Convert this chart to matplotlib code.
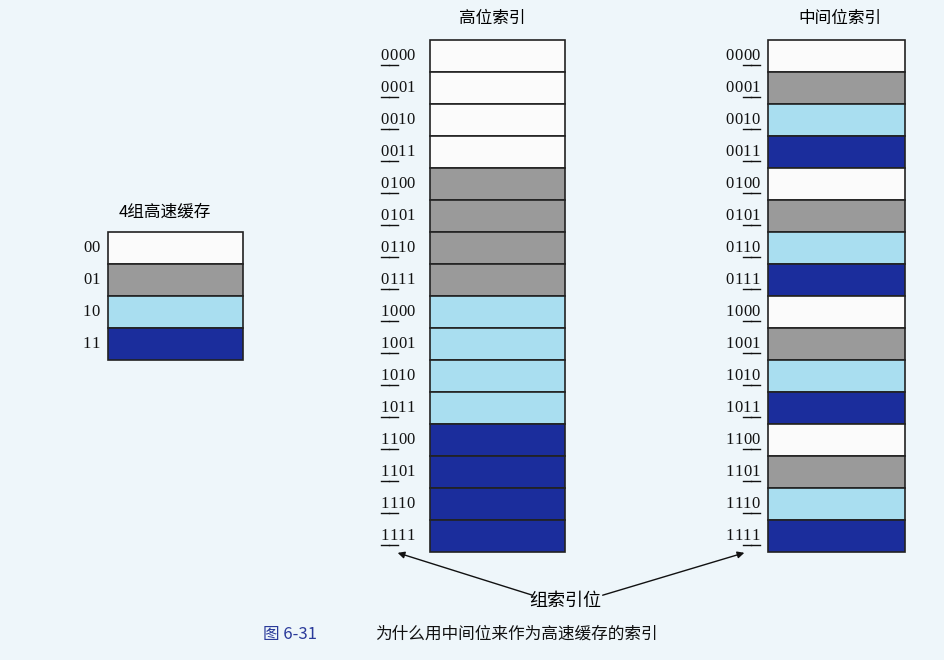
import matplotlib
matplotlib.use("Agg")
import matplotlib.pyplot as plt
from matplotlib.patches import Rectangle

plt.rcParams['font.family'] = ['Noto Sans CJK SC', 'DejaVu Sans']

cache_sets = ["00", "01", "10", "11"]
addresses = [format(i, "04b") for i in range(16)]
palette = {"00": "#fbfbfb", "01": "#9a9a9a", "10": "#a9def0", "11": "#1b2d9c"}
title_left = "4组高速缓存"
title_mid = "高位索引"
title_right = "中间位索引"
arrow_label = "组索引位"
caption_num = "图 6-31"
caption_text = "为什么用中间位来作为高速缓存的索引"

W, H = 945, 660
fig = plt.figure(figsize=(W / 100, H / 100), dpi=100)
fig.patch.set_facecolor("#eef6fa")
ax = fig.add_axes([0, 0, 1, 1])
ax.set_xlim(0, W); ax.set_ylim(H, 0); ax.axis("off")

CW = 8.6
def label(x_right, yc, s, ul):
    n = len(s)
    x0 = x_right - n * CW
    for i, ch in enumerate(s):
        ax.text(x0 + i * CW + CW / 2, yc, ch, ha="center", va="center",
                fontsize=12, family="Liberation Serif", color="#111")
    for i in ul:
        ax.plot([x0 + i * CW, x0 + (i + 1) * CW], [yc + 9, yc + 9], color="#111", lw=1)

def column(x, y0, w, h, keys, labels, ul, xr):
    for k, (key, lab) in enumerate(zip(keys, labels)):
        y = y0 + k * h
        ax.add_patch(Rectangle((x, y), w, h, facecolor=palette[key], edgecolor="#222", lw=1.2))
        label(xr, y + h / 2, lab, ul)

# left cache
column(108, 232, 135, 32, cache_sets, cache_sets, [], 100)
ax.text(165, 212, title_left, ha="center", va="center", fontsize=12)
# high bits
column(430, 40, 135, 32, [a[:2] for a in addresses], addresses, [0, 1], 415)
ax.text(492, 18, title_mid, ha="center", va="center", fontsize=12)
# middle bits
column(768, 40, 137, 32, [a[2:] for a in addresses], addresses, [2, 3], 760)
ax.text(840, 18, title_right, ha="center", va="center", fontsize=12)

ax.text(565, 601, arrow_label, ha="center", va="center", fontsize=13)
ax.annotate("", xy=(395, 552), xytext=(535, 596),
            arrowprops=dict(arrowstyle="-|>", color="#111", lw=1))
ax.annotate("", xy=(747, 552), xytext=(600, 596),
            arrowprops=dict(arrowstyle="-|>", color="#111", lw=1))
ax.text(290, 634, caption_num, ha="center", va="center", fontsize=12, color="#2a3a9a")
ax.text(375, 634, caption_text, ha="left", va="center", fontsize=12, color="#111")

fig.savefig("out.png", dpi=100, facecolor=fig.get_facecolor())
